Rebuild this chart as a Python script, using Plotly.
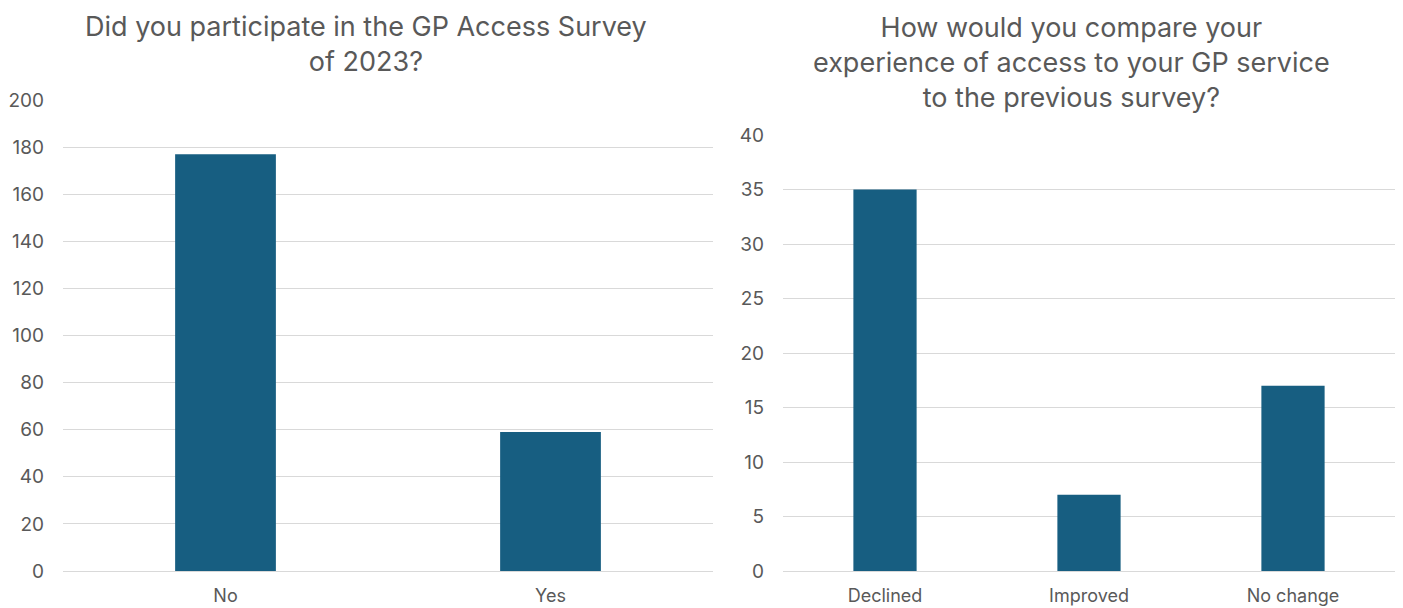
import plotly.graph_objects as go

# Survey responses
participation_labels = ["No", "Yes"]
participation_counts = [177, 59]

comparison_labels = ["Declined", "Improved", "No change"]
comparison_counts = [35, 7, 17]

left_ticks = [0, 20, 40, 60, 80, 100, 120, 140, 160, 180, 200]
right_ticks = [0, 5, 10, 15, 20, 25, 30, 35, 40]

W, H = 1403, 608
BAR = "#175E81"
TXT = "#595959"
GRID = "#D9D9D9"
FONT = "Inter, Roboto, sans-serif"


def px_x(p):
    return p / W


def px_y(p):
    return 1 - p / H


fig = go.Figure()
fig.add_trace(go.Bar(x=participation_labels, y=participation_counts,
                     marker=dict(color=BAR, line=dict(width=0)),
                     xaxis="x", yaxis="y", hoverinfo="x+y"))
fig.add_trace(go.Bar(x=comparison_labels, y=comparison_counts,
                     marker=dict(color=BAR, line=dict(width=0)),
                     xaxis="x2", yaxis="y2", hoverinfo="x+y"))

common_y = dict(showgrid=True, gridcolor=GRID, gridwidth=1, zeroline=False,
                showline=False, ticks="", automargin=False,
                tickfont=dict(size=19, color=TXT, family=FONT),
                ticklabelstandoff=18)
common_x = dict(showgrid=False, showline=True, linecolor=GRID, linewidth=1,
                ticks="", automargin=False,
                tickfont=dict(size=18, color=TXT, family=FONT),
                ticklabelstandoff=8)

fig.update_layout(
    width=W, height=H,
    margin=dict(l=0, r=0, t=0, b=0),
    paper_bgcolor="white", plot_bgcolor="white",
    showlegend=False,
    bargap=0.69,
    font=dict(family=FONT, color=TXT),
    xaxis=dict(domain=[px_x(63), px_x(713)], anchor="y", **common_x),
    yaxis=dict(domain=[px_y(571), px_y(100)], anchor="x", range=[0, 200],
               tickvals=left_ticks, **common_y),
    xaxis2=dict(domain=[px_x(783), px_x(1395)], anchor="y2", **common_x),
    yaxis2=dict(domain=[px_y(571), px_y(135)], anchor="x2", range=[0, 40],
                tickvals=right_ticks, **common_y),
    annotations=[
        dict(text="Did you participate in the GP Access Survey<br>of 2023?",
             x=px_x(366), y=px_y(44), xref="paper", yref="paper",
             xanchor="center", yanchor="middle", showarrow=False,
             font=dict(size=27, color=TXT, family=FONT)),
        dict(text="How would you compare your<br>experience of access to your GP service<br>to the previous survey?",
             x=px_x(1071), y=px_y(62), xref="paper", yref="paper",
             xanchor="center", yanchor="middle", showarrow=False,
             font=dict(size=27, color=TXT, family=FONT)),
    ],
)

fig.write_html("out.html")
